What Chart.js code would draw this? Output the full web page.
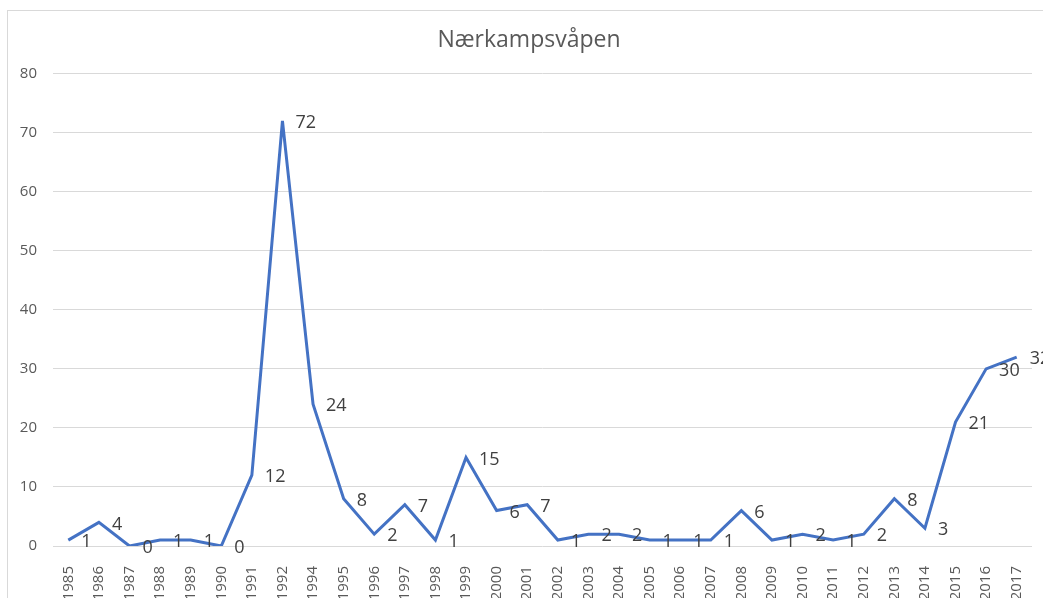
<!DOCTYPE html>
<html>
<head>
<meta charset="utf-8">
<script src="https://cdn.jsdelivr.net/npm/chart.js@4"></script>
<style>
  html, body { margin: 0; padding: 0; background: #fff; overflow: hidden; }
  #frame { position: absolute; left: 7px; top: 10px; width: 1200px; height: 800px; border: 1px solid #d9d9d9; }
  #wrap { position: absolute; left: 0; top: 0; }
</style>
</head>
<body>
<div id="frame"></div>
<div id="wrap"><canvas id="weaponChart" width="1058" height="620"></canvas></div>
<script>
var years = ['1985', '1986', '1987', '1988', '1989', '1990', '1991', '1992', '1994', '1995',
             '1996', '1997', '1998', '1999', '2000', '2001', '2002', '2003', '2004', '2005',
             '2006', '2007', '2008', '2009', '2010', '2011', '2012', '2013', '2014', '2015',
             '2016', '2017'];
var counts = [1, 4, 0, 1, 1, 0, 12, 72, 24, 8,
              2, 7, 1, 15, 6, 7, 1, 2, 2, 1,
              1, 1, 6, 1, 2, 1, 2, 8, 3, 21,
              30, 32];
var yTicks = [0, 10, 20, 30, 40, 50, 60, 70, 80];

var fontName = "'Open Sans', sans-serif";

// draw the value next to each point (no datalabels plugin available offline)
var valueLabels = {
	id: 'valueLabels',
	afterDatasetsDraw: function(chart) {
		var ctx = chart.ctx;
		var meta = chart.getDatasetMeta(0);
		ctx.save();
		ctx.font = '18px ' + fontName;
		ctx.fillStyle = '#404040';
		ctx.textAlign = 'left';
		ctx.textBaseline = 'middle';
		meta.data.forEach(function(pt, i) {
			ctx.fillText(String(counts[i]), pt.x + 13, pt.y + 2);
		});
		ctx.restore();
	}
};

var ctx = document.getElementById('weaponChart');
var weaponChart = new Chart(ctx, {
	type: 'line',
	data: {
		labels: years,
		datasets: [{
			label: 'Nærkampsvåpen',
			data: counts,
			borderColor: '#4472C4',
			backgroundColor: '#4472C4',
			borderWidth: 3,
			pointRadius: 0,
			tension: 0,
			fill: false
		}]
	},
	options: {
		responsive: false,
		animation: false,
		layout: { padding: 0 },
		plugins: {
			legend: { display: false },
			tooltip: { enabled: false },
			title: {
				display: true,
				text: 'Nærkampsvåpen',
				color: '#595959',
				font: { family: fontName, size: 23, weight: 'normal' },
				padding: { top: 27, bottom: 19 }
			}
		},
		scales: {
			x: {
				offset: true,
				grid: { display: false },
				border: { display: false },
				ticks: {
					autoSkip: false,
					maxRotation: 90,
					minRotation: 90,
					padding: 12,
					color: '#595959',
					font: { family: fontName, size: 15 }
				},
				afterFit: function(axis) { axis.height = 74; }
			},
			y: {
				min: 0,
				max: 80,
				afterBuildTicks: function(axis) {
					axis.ticks = yTicks.map(function(v) { return { value: v }; });
				},
				grid: { color: '#d9d9d9', lineWidth: 1, drawTicks: false },
				border: { display: false },
				ticks: {
					padding: 16,
					color: '#595959',
					font: { family: fontName, size: 15 }
				},
				afterFit: function(axis) { axis.width = 53; }
			},
			// empty right-hand gap so the title stays centred on the full frame
			yRight: {
				position: 'right',
				min: 0,
				max: 80,
				grid: { display: false },
				border: { display: false },
				ticks: { display: false },
				afterFit: function(axis) { axis.width = 26; }
			}
		}
	},
	plugins: [valueLabels]
});
</script>
</body>
</html>
